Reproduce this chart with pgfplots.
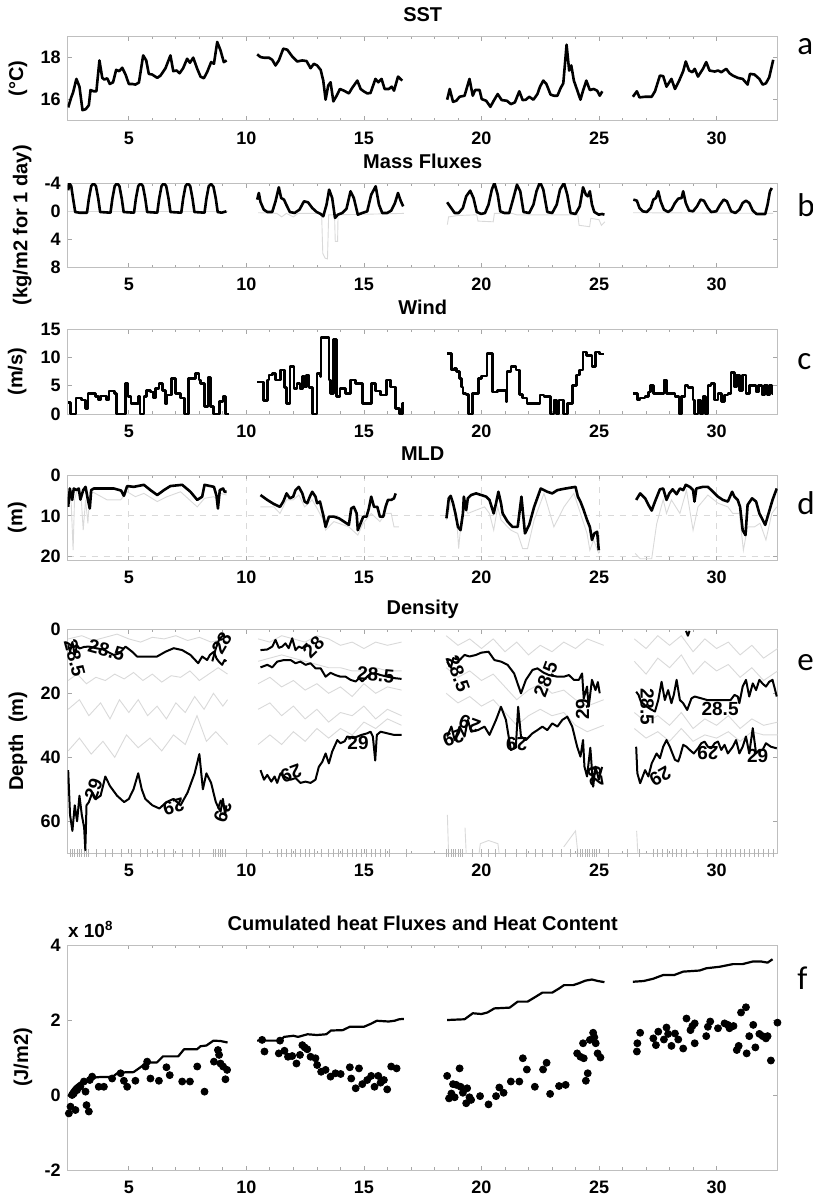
\documentclass[border=0pt]{standalone}
\usepackage{fontspec}
\setmainfont{Liberation Sans}
\newfontfamily\letterfont{Carlito}
\usepackage{pgfplots}
\pgfplotsset{compat=1.18}

\pgfplotsset{
  panel/.style={
    scale only axis, width=355pt, xmin=2.4, xmax=32.6,
    xtick={5,10,...,30}, minor x tick num=4,
    tick align=inside, major tick length=2.2pt, minor tick length=1.3pt,
    axis line style={black!25}, every tick/.style={black!35},
    tick label style={font=\fontsize{9}{10}\selectfont\bfseries},
    /pgf/number format/assume math mode=true,
    xticklabel style={anchor=base,yshift=-11.7pt},
    title style={at={(0.5,1)},anchor=base,yshift=1.4pt,font=\fontsize{10}{12}\selectfont\bfseries},
    ylabel style={font=\fontsize{10}{12}\selectfont\bfseries,anchor=center},
    anchor=north west, clip=true, clip mode=individual,
  },
  dataline/.style={black, line width=1.3pt, line join=round},
  contour/.style={black, line width=1pt, line join=round},
  greyline/.style={black!15, line width=0.45pt},
}
\tikzset{
  clab/.style={font=\fontsize{9.5}{10}\selectfont\bfseries, inner sep=0pt},
  letter/.style={font=\letterfont\fontsize{16.5}{16.5}\selectfont, anchor=west, inner sep=0pt},
}

\begin{document}
\begin{tikzpicture}

% ---- a: SST
\begin{axis}[panel, at={(0pt,0pt)}, height=42pt, ymin=15, ymax=19, ytick={16,18},
  title={SST}, ylabel={(°C)}, ylabel style={at={(axis description cs:-0.07,0.5)}}]
\addplot[dataline] coordinates {(2.42,15.63)(2.55,16.11)(2.63,16.35)(2.77,16.99)(2.90,16.62)(3.03,15.50)(3.17,15.55)(3.30,15.74)(3.37,16.46)(3.51,16.40)(3.62,16.40)(3.75,17.87)(3.87,17.04)(3.96,16.96)(4.08,17.02)(4.19,16.75)(4.33,16.83)(4.46,17.42)(4.59,17.36)(4.72,17.52)(4.86,17.20)(5.00,16.75)(5.14,16.75)(5.28,16.72)(5.43,16.82)(5.61,18.11)(5.74,17.87)(5.85,17.23)(5.99,17.20)(6.21,17.04)(6.35,17.15)(6.56,17.50)(6.77,18.11)(6.89,17.36)(7.03,17.39)(7.16,17.26)(7.31,17.50)(7.48,17.95)(7.60,17.76)(7.74,18.00)(7.91,17.47)(8.05,17.10)(8.19,17.02)(8.33,17.31)(8.50,17.79)(8.62,17.71)(8.76,18.75)(8.90,18.35)(9.04,17.79)(9.16,17.87)};
\addplot[dataline] coordinates {(10.46,18.16)(10.60,18.03)(10.74,18.0)(10.96,18.0)(11.10,17.9)(11.24,17.63)(11.38,17.87)(11.57,18.43)(11.74,18.38)(11.95,18.06)(12.16,17.82)(12.38,17.87)(12.56,17.84)(12.73,17.50)(12.87,17.71)(13.01,17.63)(13.16,17.42)(13.27,16.91)(13.37,16.0)(13.48,16.67)(13.58,16.83)(13.70,15.92)(13.84,16.19)(13.98,16.51)(14.15,16.43)(14.36,16.30)(14.50,16.56)(14.72,16.91)(14.86,16.51)(14.99,16.40)(15.14,16.30)(15.28,16.32)(15.49,16.99)(15.61,16.83)(15.75,16.99)(15.88,16.51)(16.06,16.51)(16.18,16.62)(16.28,16.43)(16.45,17.10)(16.63,16.91)};
\addplot[dataline] coordinates {(18.54,16.0)(18.65,16.51)(18.79,15.90)(18.93,15.95)(19.07,16.14)(19.28,16.19)(19.49,16.99)(19.63,16.19)(19.73,16.46)(19.92,16.46)(20.01,16.03)(20.20,15.95)(20.38,15.66)(20.52,15.95)(20.69,16.27)(20.86,15.98)(21.08,15.95)(21.25,15.79)(21.42,15.87)(21.61,16.40)(21.75,15.98)(21.89,16.0)(22.03,16.14)(22.21,16.0)(22.38,16.27)(22.49,16.62)(22.63,16.91)(22.76,16.75)(22.94,16.24)(23.08,16.19)(23.23,16.19)(23.37,16.56)(23.48,16.78)(23.62,18.62)(23.73,17.39)(23.82,17.63)(23.93,16.91)(24.07,16.46)(24.21,16.0)(24.32,16.43)(24.46,16.91)(24.61,16.46)(24.77,16.51)(24.92,16.43)(25.03,16.19)(25.14,16.40)};
\addplot[dataline] coordinates {(26.44,16.14)(26.61,16.40)(26.72,16.11)(26.96,16.14)(27.24,16.14)(27.38,16.40)(27.59,17.15)(27.73,17.12)(27.87,16.62)(28.08,16.99)(28.23,16.51)(28.41,16.91)(28.58,17.36)(28.69,17.82)(28.83,17.39)(28.97,17.31)(29.07,17.47)(29.21,17.10)(29.42,17.47)(29.56,17.79)(29.70,17.39)(29.92,17.34)(30.06,17.39)(30.20,17.31)(30.41,17.47)(30.55,17.26)(30.69,17.15)(30.90,17.04)(31.11,16.99)(31.32,16.72)(31.42,17.23)(31.61,17.20)(31.82,16.99)(31.96,16.72)(32.10,16.78)(32.24,17.07)(32.41,17.90)};
\node[letter] at (axis description cs:1.027,0.877) {a};
\end{axis}

% ---- b: Mass fluxes
\begin{axis}[panel, at={(0pt,-73.3pt)}, height=42pt, ymin=-4, ymax=8, y dir=reverse, ytick={-4,0,4,8},
  title={Mass Fluxes}, ylabel={(kg/m2 for 1 day)}, ylabel style={at={(axis description cs:-0.064,0.5)}}]
\addplot[greyline] coordinates {(2.42,0)(9.2,0)};
\addplot[greyline] coordinates {(10.5,0.2)(11.3,0.3)(11.5,0.8)(11.7,0.3)(12.0,0.8)(12.2,0.3)(13.2,0.3)(13.25,6.0)(13.35,6.7)(13.45,6.8)(13.5,0.5)(13.75,0.5)(13.78,4.3)(13.88,4.3)(13.9,0.5)(16.7,0.3)};
\addplot[greyline] coordinates {(18.55,1.9)(18.6,0.8)(19.0,0.6)(19.8,0.5)(19.85,1.4)(20.5,1.5)(20.55,0.3)(21.3,0.3)(21.5,0.5)(24.1,0.5)(24.15,2.0)(24.6,2.2)(24.65,1.0)(25.0,1.2)(25.1,2.0)(25.25,1.5)};
\addplot[greyline] coordinates {(26.45,0.2)(32.4,0.3)};
\addplot[dataline] coordinates {(2.42,-3.0)(2.47,-4.0)(2.55,-3.6)(2.63,-1.8)(2.72,0.1)(2.9,0.2)(3.22,0.2)(3.3,-1.8)(3.4,-3.6)(3.5,-4.0)(3.6,-3.6)(3.7,-1.8)(3.78,0.1)(4.22,0.2)(4.3,-1.8)(4.4,-3.6)(4.5,-4.0)(4.6,-3.6)(4.7,-1.8)(4.78,0.1)(5.22,0.2)(5.3,-1.8)(5.4,-3.6)(5.5,-4.0)(5.6,-3.6)(5.7,-1.8)(5.78,0.1)(6.21,0.2)(6.29,-1.8)(6.39,-3.6)(6.49,-4.0)(6.59,-3.6)(6.69,-1.8)(6.77,0.1)(7.23,0.2)(7.31,-1.8)(7.41,-3.6)(7.51,-4.0)(7.61,-3.6)(7.71,-1.8)(7.79,0.1)(8.22,0.2)(8.3,-1.8)(8.4,-3.6)(8.5,-3.9)(8.6,-3.5)(8.7,-1.8)(8.78,0.1)(8.95,0.2)(9.15,0.0)};
\addplot[dataline] coordinates {(10.46,-1.67)(10.53,-2.62)(10.60,-1.33)(10.74,-0.24)(10.89,0.1)(11.10,0.1)(11.24,-1.43)(11.38,-3.43)(11.48,-1.9)(11.60,-1.67)(11.71,-0.86)(11.85,0.1)(12.05,0.24)(12.26,-0.24)(12.45,-1.43)(12.62,-1.29)(12.80,-0.48)(12.99,0.1)(13.16,0.38)(13.27,0.71)(13.41,-0.95)(13.52,-3.1)(13.65,-1.9)(13.77,0.95)(13.89,0.48)(14.08,0.24)(14.26,-0.38)(14.43,-2.86)(14.57,-1.9)(14.74,0.48)(14.93,0.24)(15.14,0)(15.31,-2.38)(15.50,-3.57)(15.64,-0.95)(15.78,0.24)(15.99,0.24)(16.16,-0.1)(16.32,-1.19)(16.45,-2.62)(16.56,-1.52)(16.67,-0.71)};
\addplot[dataline] coordinates {(18.54,-1.29)(18.69,-0.57)(18.86,0.24)(19.03,0.24)(19.21,-0.48)(19.35,-2.14)(19.52,-2.95)(19.66,-1.9)(19.80,0.1)(19.99,0.38)(20.15,0.24)(20.30,-0.95)(20.44,-3.1)(20.55,-4.05)(20.69,-2.38)(20.80,0)(20.97,0.24)(21.18,0.24)(21.32,-1.43)(21.51,-3.81)(21.65,-2.86)(21.79,0.1)(22.03,0.24)(22.21,-0.95)(22.34,-2.86)(22.49,-4.19)(22.63,-3.1)(22.80,0.1)(23.01,0.24)(23.20,-0.95)(23.34,-3.1)(23.51,-4.05)(23.65,-2.38)(23.79,0.24)(24.0,0.38)(24.18,-0.71)(24.32,-3.43)(24.44,-2.38)(24.52,-2.14)(24.61,-2.86)(24.70,-0.95)(24.80,0.1)(24.99,0.48)(25.13,0.38)(25.23,0.48)};
\addplot[dataline] coordinates {(26.46,-1.67)(26.61,-1.52)(26.72,-0.48)(26.86,0)(27.03,0.1)(27.20,-0.48)(27.31,-1.67)(27.42,-1.9)(27.52,-2.86)(27.62,-1.43)(27.76,-0.24)(27.94,0.1)(28.08,-0.24)(28.23,-1.19)(28.37,-1.81)(28.51,-1.9)(28.58,-2.86)(28.69,-1.19)(28.83,-0.1)(29.0,0)(29.17,-0.71)(29.32,-1.67)(29.46,-1.52)(29.63,-0.48)(29.77,0.1)(29.99,0)(30.15,-0.95)(30.30,-1.67)(30.44,-1.43)(30.62,0)(30.80,0.24)(30.97,-0.24)(31.11,-1.19)(31.25,-1.52)(31.39,-1.19)(31.54,-0.1)(31.70,0.38)(31.89,0.38)(32.07,0.38)(32.17,-0.95)(32.27,-2.86)(32.35,-3.33)};
\node[letter] at (axis description cs:1.027,0.74) {b};
\end{axis}

% ---- c: Wind
\begin{axis}[panel, at={(0pt,-146.3pt)}, height=42.35pt, ymin=0, ymax=15, ytick={0,5,10,15},
  title={Wind}, ylabel={(m/s)}, ylabel style={at={(axis description cs:-0.071,0.5)}}]
\addplot[dataline, const plot] coordinates {(2.42,2.0)(2.52,0)(2.69,0)(2.76,2.8)(2.99,2.5)(3.16,1.0)(3.26,3.6)(3.58,3.1)(3.72,2.5)(3.79,3.2)(4.05,2.5)(4.15,4.1)(4.40,3.6)(4.48,0)(4.86,5.4)(4.97,3.1)(5.10,1.9)(5.40,3.1)(5.47,0)(5.64,3.1)(5.74,4.2)(5.92,3.9)(6.06,2.8)(6.13,4.5)(6.28,5.4)(6.42,4.2)(6.56,1.8)(6.63,3.4)(6.82,6.3)(6.99,3.6)(7.20,2.8)(7.37,0)(7.55,6.3)(7.84,7.2)(7.98,6.0)(8.05,5.4)(8.22,1.3)(8.36,6.5)(8.48,1.3)(8.59,0)(8.86,2.2)(9.01,3.1)(9.11,0)(9.26,0)};
\addplot[dataline, const plot] coordinates {(10.46,5.7)(10.72,2.4)(10.89,6.0)(10.96,6.9)(11.10,7.2)(11.24,6.0)(11.45,7.8)(11.62,4.7)(11.71,1.9)(11.85,8.4)(12.02,4.5)(12.16,5.4)(12.28,4.4)(12.38,6.6)(12.48,4.8)(12.56,6.9)(12.66,4.7)(12.80,0)(13.01,7.2)(13.16,6.6)(13.18,13.5)(13.51,6.0)(13.58,3.6)(13.70,13.2)(13.84,3.1)(13.98,4.5)(14.22,3.6)(14.43,6.0)(14.65,5.4)(14.93,1.9)(15.31,5.4)(15.50,4.1)(15.71,3.4)(15.96,6.0)(16.13,4.8)(16.35,1.0)(16.52,0)(16.63,1.9)(16.70,1.9)};
\addplot[dataline, const plot] coordinates {(18.54,10.7)(18.72,7.8)(18.86,8.1)(18.93,7.5)(19.07,6.3)(19.14,4.8)(19.21,3.6)(19.35,3.5)(19.46,0)(19.63,3.6)(19.87,6.3)(19.99,6.7)(20.24,10.7)(20.48,3.9)(20.69,4.2)(21.04,2.2)(21.08,7.5)(21.25,8.4)(21.46,7.8)(21.61,3.5)(21.75,2.8)(21.93,1.9)(22.49,3.4)(22.66,3.1)(22.94,0)(23.08,2.5)(23.20,0)(23.30,2.5)(23.48,0)(23.65,1.9)(23.86,5.1)(24.04,6.9)(24.18,7.8)(24.32,11.0)(24.46,10.4)(24.70,8.4)(24.85,11.0)(25.03,10.6)(25.23,10.6)};
\addplot[dataline, const plot] coordinates {(26.46,3.6)(26.63,2.5)(26.75,2.8)(26.96,3.1)(27.10,3.9)(27.20,5.1)(27.31,3.6)(27.76,6.0)(27.87,3.6)(28.23,3.1)(28.41,0)(28.51,3.1)(28.65,5.1)(28.79,4.7)(29.00,2.5)(29.07,0)(29.21,2.5)(29.31,0)(29.42,3.1)(29.54,0)(29.63,5.1)(29.77,5.4)(29.92,2.5)(30.06,3.6)(30.20,2.2)(30.34,3.4)(30.48,3.6)(30.62,7.3)(30.76,4.8)(30.86,6.9)(30.97,4.2)(31.11,6.9)(31.25,3.6)(31.39,5.1)(31.68,3.9)(31.79,5.1)(31.93,3.4)(32.03,5.1)(32.17,3.4)(32.24,5.1)(32.35,3.6)(32.42,3.6)};
\node[letter] at (axis description cs:1.027,0.615) {c};
\end{axis}

% ---- d: MLD
\begin{axis}[panel, at={(0pt,-219.15pt)}, height=42.5pt, ymin=0, ymax=20.8, y dir=reverse, ytick={0,10,20},
  grid=major, major grid style={dashed, black!15, line width=0.4pt},
  title={MLD}, ylabel={(m)}, ylabel style={at={(axis description cs:-0.071,0.5)}}]
\addplot[greyline] coordinates {(2.42,4.5)(2.55,6.9)(2.63,18.4)(2.69,6.1)(2.80,3.7)(2.97,5.3)(3.06,13.5)(3.16,6.1)(3.26,11.8)(3.34,4.1)(3.51,4.3)(4.08,6.1)(4.65,6.1)(4.93,4.1)(5.28,5.3)(5.64,4.5)(6.21,6.5)(6.63,5.3)(7.2,4.1)(7.91,7.8)(8.22,5.7)(8.62,5.3)(8.76,6.1)(8.90,4.5)(9.16,4.9)};
\addplot[greyline] coordinates {(10.60,7.8)(11.17,7.8)(11.43,9.4)(11.71,6.1)(11.99,6.1)(12.23,4.9)(12.48,7.8)(12.80,6.1)(13.01,8.2)(13.27,11.0)(13.37,13.5)(13.72,11.4)(14.36,12.7)(14.74,14.7)(14.97,11.8)(15.31,9.4)(15.68,11.4)(15.92,9.4)(16.16,9.4)(16.28,12.7)(16.49,12.7)};
\addplot[greyline] coordinates {(18.51,11.0)(18.72,6.1)(18.93,9.4)(19.03,18.0)(19.14,11.0)(19.28,7.8)(19.42,9.4)(19.77,8.6)(20.13,7.8)(20.34,9.4)(20.52,13.5)(20.69,7.8)(20.83,11.0)(21.25,13.5)(21.54,14.3)(21.75,18.0)(21.96,18.0)(22.24,11.0)(22.66,4.5)(23.08,12.7)(23.51,7.8)(23.93,4.5)(24.21,9.4)(24.49,14.3)(24.61,18.4)(24.77,15.9)(24.99,19.2)};
\addplot[greyline] coordinates {(26.54,19.2)(26.75,20.5)(27.24,20.5)(27.45,12.0)(27.73,6.0)(27.87,9.4)(28.08,6.1)(28.44,9.4)(28.72,3.7)(29.0,13.5)(29.21,7.8)(29.63,4.9)(30.06,6.9)(30.48,7.8)(30.69,9.4)(30.97,9.4)(31.14,18.4)(31.32,12.7)(31.61,12.7)(31.85,11.8)(32.10,15.9)(32.35,9.4)(32.56,7.8)};
\addplot[dataline] coordinates {(2.42,7.8)(2.49,3.3)(2.59,6.1)(2.66,3.3)(2.77,3.7)(2.87,3.3)(2.94,6.0)(3.06,3.7)(3.16,2.9)(3.26,6.1)(3.34,8.2)(3.40,3.7)(3.51,3.3)(4.36,3.3)(4.67,3.8)(4.79,5.1)(4.93,2.7)(5.21,2.9)(5.64,2.4)(5.92,3.7)(6.21,4.9)(6.49,3.7)(6.77,2.7)(7.27,2.4)(7.62,4.1)(7.91,6.1)(8.12,5.3)(8.22,2.4)(8.62,2.9)(8.73,5.1)(8.79,8.2)(8.87,3.7)(9.01,3.3)(9.07,4.1)(9.16,4.1)};
\addplot[dataline] coordinates {(10.60,4.9)(10.89,6.1)(11.17,7.1)(11.43,7.8)(11.57,6.5)(11.71,4.5)(11.85,5.7)(11.99,5.3)(12.09,3.7)(12.23,2.9)(12.38,4.5)(12.48,6.5)(12.59,6.9)(12.70,5.3)(12.80,4.1)(12.94,5.3)(13.01,6.9)(13.13,6.5)(13.27,9.8)(13.37,12.7)(13.51,10.2)(13.72,10.2)(13.94,10.6)(14.15,11.4)(14.36,12.2)(14.46,8.2)(14.57,7.8)(14.69,9.4)(14.74,13.5)(14.86,11.8)(14.97,10.2)(15.11,10.2)(15.21,8.2)(15.31,5.3)(15.43,7.8)(15.57,7.8)(15.68,10.2)(15.82,10.2)(15.92,7.8)(16.02,6.1)(16.16,6.1)(16.28,5.7)(16.35,4.5)};
\addplot[dataline] coordinates {(18.51,10.6)(18.61,5.7)(18.69,5.1)(18.79,6.9)(18.89,9.4)(19.0,12.7)(19.11,13.5)(19.21,9.4)(19.25,5.3)(19.35,8.6)(19.42,5.7)(19.56,4.9)(19.77,4.5)(19.99,4.9)(20.20,5.3)(20.34,6.1)(20.52,9.4)(20.62,6.9)(20.72,4.1)(20.83,6.9)(20.90,9.4)(21.11,11.4)(21.32,12.7)(21.54,12.7)(21.70,5.3)(21.85,14.3)(22.03,12.2)(22.24,7.8)(22.52,3.3)(22.80,4.1)(23.01,4.5)(23.23,3.7)(23.58,3.3)(24.0,2.9)(24.10,5.3)(24.21,6.5)(24.35,8.6)(24.49,11.0)(24.61,12.7)(24.70,15.9)(24.80,14.3)(24.92,13.9)(24.99,18.4)};
\addplot[dataline] coordinates {(26.58,6.1)(26.75,4.5)(26.96,5.7)(27.10,7.3)(27.24,8.7)(27.38,6.5)(27.59,3.5)(27.73,3.3)(27.87,6.1)(27.99,4.5)(28.13,3.5)(28.30,4.7)(28.44,3.3)(28.58,3.7)(28.69,2.4)(28.86,2.9)(29.0,3.7)(29.06,6.5)(29.14,3.3)(29.42,2.9)(29.63,2.9)(29.85,4.1)(30.06,5.3)(30.27,6.1)(30.48,6.5)(30.66,4.1)(30.76,5.3)(30.90,6.1)(31.0,7.8)(31.11,13.5)(31.23,14.7)(31.32,7.3)(31.51,5.7)(31.68,6.5)(31.82,9.4)(32.07,12.2)(32.17,10.2)(32.38,6.1)(32.56,3.3)};
\node[letter] at (axis description cs:1.027,0.67) {d};
\end{axis}

% ---- e: Density
\begin{axis}[panel, at={(0pt,-296.3pt)}, height=112pt, ymin=0, ymax=70, y dir=reverse, ytick={0,20,40,60},
  title={Density}, ylabel={Depth\ \ (m)}, ylabel style={at={(axis description cs:-0.07,0.5)}}]
% light isopycnals
\addplot[greyline] coordinates {(2.42,3)(3.0,2)(3.5,3.5)(4.0,2.5)(4.5,1.5)(5.0,3)(5.5,4)(6.0,2.5)(6.5,3)(7.0,2)(7.5,3.5)(8.0,2.5)(8.5,4)(9.0,3)(9.2,4)};
\addplot[greyline] coordinates {(2.42,16)(2.8,14)(3.2,17)(3.6,15)(4.0,16)(4.4,14)(4.8,15.5)(5.2,13.5)(5.6,16)(6.0,14)(6.4,16.5)(6.8,14.5)(7.2,15)(7.6,13)(8.0,16)(8.4,14)(8.8,12)(9.2,14)};
\addplot[greyline] coordinates {(2.42,25)(2.9,22)(3.3,27)(3.8,23)(4.2,28)(4.6,22)(5.0,26)(5.4,22)(5.8,27)(6.2,24)(6.6,28)(7.0,23)(7.4,26)(7.8,21)(8.2,25)(8.6,20)(9.0,24)(9.2,22)};
\addplot[greyline] coordinates {(2.42,38)(2.9,34)(3.4,39)(3.9,35)(4.4,40)(4.9,33)(5.4,37)(5.9,34)(6.4,38)(6.9,33)(7.4,36)(7.9,27)(8.3,35)(8.7,32)(9.2,36)};
\addplot[greyline] coordinates {(10.5,3)(11.0,4)(11.5,2)(12.0,3)(12.5,4)(13.0,2)(13.5,3)(14.0,5)(14.5,4)(15.0,6)(15.5,4)(16.0,5)(16.6,4)};
\addplot[greyline] coordinates {(10.5,10)(11.0,9)(11.5,8)(12.0,9)(12.5,10)(13.0,11)(13.5,12)(14.0,12)(14.5,13)(15.0,13)(15.5,12)(16.0,13)(16.6,13)};
\addplot[greyline] coordinates {(10.5,17)(11.0,15)(11.5,18)(12.0,16)(12.5,19)(13.0,17)(13.5,20)(14.0,18)(14.5,21)(15.0,17)(15.5,20)(16.0,18)(16.6,19)};
\addplot[greyline] coordinates {(10.5,25)(11.0,23)(11.5,27)(12.0,24)(12.5,28)(13.0,25)(13.5,29)(14.0,26)(14.5,27)(15.0,24)(15.5,28)(16.0,25)(16.6,27)};
\addplot[greyline] coordinates {(10.5,36)(11.0,33)(11.5,36)(12.0,32)(12.5,35)(13.0,31)(13.5,34)(14.0,31)(14.5,33)(15.0,29)(15.5,31)(16.0,28)(16.6,30)};
\addplot[greyline] coordinates {(18.5,2)(19.0,5)(19.5,3)(20.0,6)(20.5,3)(21.0,7)(21.5,4)(22.0,8)(22.5,5)(23.0,7)(23.5,4)(24.0,6)(24.5,3)(25.2,5)};
\addplot[greyline] coordinates {(18.5,12)(19.0,15)(19.5,13)(20.0,16)(20.5,14)(21.0,18)(21.5,22)(22.0,19)(22.5,17)(23.0,20)(23.5,19)(24.0,22)(24.5,24)(25.2,22)};
\addplot[greyline] coordinates {(18.5,20)(19.0,23)(19.5,21)(20.0,24)(20.5,22)(21.0,26)(21.5,30)(22.0,27)(22.5,25)(23.0,27)(23.5,26)(24.0,30)(24.5,32)(25.2,30)};
\addplot[greyline] coordinates {(18.55,58)(18.6,70)};
\addplot[greyline] coordinates {(19.3,62)(19.35,70)};
\addplot[greyline] coordinates {(19.9,70)(19.95,67)(20.3,66)(20.7,67)(20.75,70)};
\addplot[greyline] coordinates {(23.5,68)(24.0,63)(24.1,70)};
\addplot[greyline] coordinates {(26.6,63)(26.65,70)};
\addplot[greyline] coordinates {(26.5,3)(27.0,6)(27.5,2)(28.0,5)(28.5,2)(29.0,7)(29.5,3)(30.0,6)(30.5,4)(31.0,8)(31.5,5)(32.0,9)(32.6,6)};
\addplot[greyline] coordinates {(26.5,10)(27.0,14)(27.5,9)(28.0,12)(28.5,8)(29.0,14)(29.5,10)(30.0,13)(30.5,11)(31.0,15)(31.5,12)(32.0,16)(32.6,13)};
\addplot[greyline] coordinates {(26.5,26)(27.0,29)(27.5,27)(28.0,30)(28.5,26)(29.0,31)(29.5,28)(30.0,30)(30.5,27)(31.0,31)(31.5,28)(32.0,30)(32.6,29)};
\addplot[greyline] coordinates {(26.5,31)(27.0,34)(27.5,32)(28.0,35)(28.5,31)(29.0,35)(29.5,33)(30.0,34)(30.5,32)(31.0,35)(31.5,32)(32.0,33)(32.6,33)};
% profile times
\addplot[only marks, mark=|, mark size=2pt, black!30, mark options={line width=0.4pt}] coordinates {(2.5,70)(2.6,70)(2.7,70)(2.8,70)(2.9,70)(3.0,70)(3.1,70)(3.2,70)(3.3,70)(3.6,70)(4.0,70)(4.3,70)(4.7,70)(5.1,70)(5.5,70)(5.8,70)(6.2,70)(6.5,70)(6.9,70)(7.3,70)(7.7,70)(8.0,70)(8.6,70)(8.7,70)(8.8,70)(8.9,70)(9.0,70)(9.1,70)(10.0,70)(10.7,70)(11.3,70)(11.5,70)(11.7,70)(11.9,70)(12.1,70)(12.3,70)(12.5,70)(12.7,70)(12.9,70)(13.2,70)(13.5,70)(13.7,70)(13.9,70)(14.1,70)(14.3,70)(14.5,70)(14.7,70)(14.9,70)(15.1,70)(15.3,70)(15.5,70)(15.7,70)(15.9,70)(16.1,70)(16.8,70)(18.5,70)(18.6,70)(18.7,70)(18.8,70)(18.9,70)(19.0,70)(19.1,70)(19.2,70)(19.6,70)(20.0,70)(20.3,70)(20.6,70)(21.0,70)(21.5,70)(21.9,70)(22.3,70)(22.6,70)(23.0,70)(23.4,70)(23.8,70)(24.1,70)(24.2,70)(24.3,70)(24.4,70)(24.5,70)(24.6,70)(24.7,70)(24.8,70)(24.9,70)(25.4,70)(26.2,70)(26.7,70)(27.3,70)(27.5,70)(27.7,70)(27.9,70)(28.1,70)(28.3,70)(28.5,70)(28.7,70)(29.2,70)(29.6,70)(30.0,70)(30.2,70)(30.4,70)(30.6,70)(30.8,70)(31.0,70)(31.2,70)(31.4,70)(31.6,70)(31.8,70)(32.0,70)(32.2,70)(32.4,70)};
% sigma 28
\addplot[contour] coordinates {(8.55,10)(8.7,6)(8.85,3)(9.0,2)(9.15,2.5)};
\addplot[contour] coordinates {(10.6,6.5)(10.89,6.3)(11.1,5.4)(11.24,3.3)(11.38,5.8)(11.52,5.4)(11.66,4.4)(11.8,5.9)(11.95,2.8)(12.09,6.5)(12.23,5.4)(12.38,5.9)(12.59,4.4)};
\addplot[contour] coordinates {(28.7,0.5)(28.78,2)(28.85,0.5)};
% sigma 28.5
\addplot[contour] coordinates {(2.42,5)(2.5,7)(2.6,4)(2.7,8)(2.8,5)(2.9,6)(3.1,5.5)(3.3,5.4)(3.6,5.9)(3.9,6.3)(4.36,8.0)(4.6,7.5)(4.86,5.4)(5.14,7.0)(5.35,8.5)(5.78,8.5)(6.2,8.5)(6.56,7.0)(6.91,5.9)(7.27,6.5)(7.62,8.0)(7.95,10.6)(8.12,8.5)(8.33,9.6)(8.45,8.0)(8.62,7.0)(8.73,9.1)(8.83,10.1)(8.97,11.1)(9.07,9.6)(9.15,10)};
\addplot[contour] coordinates {(10.6,11.9)(10.89,11.1)(11.1,11.9)(11.31,10.1)(11.6,9.6)(11.88,9.6)(12.09,10.6)(12.30,10.1)(12.52,11.1)(12.73,10.6)(12.94,12.2)(13.16,12.2)(13.37,14.8)(13.58,13.6)(13.79,14.3)(14.0,14.8)(14.22,14.8)(14.43,15.8)(14.65,16.3)(14.79,15.3)(14.93,16.3)(15.07,15.3)(15.28,13.8)(15.50,13.8)(15.71,14.3)(15.99,14.8)(16.35,15.3)(16.6,15.5)};
\addplot[contour] coordinates {(18.54,10.1)(18.7,12)(18.8,9)(19.07,9.6)(19.28,8.0)(19.49,8.5)(19.77,8.0)(19.99,7.3)(20.30,7.0)(20.55,9.6)(20.83,10.1)(21.11,11.1)(21.39,13.8)(21.68,20.0)(21.89,15.8)(22.17,12.7)(22.38,12.2)(22.63,13.5)(22.87,14.3)(23.23,14.8)(23.51,14.8)(23.72,14.3)(23.93,15.8)(24.14,15.8)(24.28,13.8)(24.35,21.6)(24.49,17.9)(24.56,24.2)(24.70,15.8)(24.85,19.0)(24.95,16.5)(25.03,20.0)};
\addplot[contour] coordinates {(26.58,19.5)(26.68,20.5)(26.78,22.6)(27.0,24.0)(27.2,25.0)(27.38,25.7)(27.52,22.1)(27.66,16.4)(27.80,22.1)(27.94,19.0)(28.08,23.1)(28.18,20.5)(28.30,15.8)(28.44,22.1)(28.58,23.1)(28.75,25.2)(28.93,21.6)(29.07,21.0)(29.6,22.1)(30.6,22.1)(30.76,20.5)(30.90,21.0)(30.97,23.1)(31.11,17.9)(31.25,15.8)(31.39,21.0)(31.54,16.9)(31.68,19.0)(31.82,15.8)(31.96,17.0)(32.10,17.9)(32.24,16.4)(32.38,15.8)(32.56,21.0)};
% sigma 29
\addplot[contour] coordinates {(2.42,44)(2.5,58)(2.6,63)(2.7,55)(2.8,60)(2.9,52)(3.0,58)(3.1,62)(3.15,69)(3.2,55)(3.3,54)(3.45,51)(3.6,53)(3.8,52)(4.0,46)(4.2,49)(4.5,52)(4.8,54)(5.0,53)(5.2,50)(5.4,45)(5.55,50)(5.7,53)(6.0,55)(6.3,56)(6.6,54)(6.9,53)(7.2,55)(7.5,51)(7.8,45)(8.0,39)(8.15,50)(8.3,45)(8.5,48)(8.7,54)(8.9,57)(9.0,53)(9.1,58)(9.15,55)};
\addplot[contour] coordinates {(10.6,44)(10.75,47)(10.89,45.5)(11.06,47.6)(11.2,46)(11.31,48)(11.45,45)(11.6,46)(11.88,47)(12.09,46.5)(12.30,48)(12.52,47.6)(12.73,48)(12.94,47)(13.08,43)(13.23,41.4)(13.37,38.8)(13.51,41.9)(13.65,38.2)(13.87,34.6)(14.0,35.6)(14.18,35)(14.29,33.5)(14.55,34)(14.9,33)(15.14,32.5)(15.28,32)(15.38,33.5)(15.48,41)(15.55,33)(15.71,32)(15.99,32.5)(16.28,33)(16.6,33)};
\addplot[contour] coordinates {(18.54,33.5)(18.72,30.4)(18.86,34.6)(19.07,30.4)(19.28,33.5)(19.42,28.3)(19.56,32)(19.85,31.5)(20.13,30.4)(20.34,33)(20.62,28.3)(20.83,24.2)(21.04,28.3)(21.25,37.7)(21.46,37)(21.56,24.2)(21.68,33.5)(21.89,34.6)(22.17,32.5)(22.38,31.5)(22.59,30.4)(22.80,31.5)(23.01,29.4)(23.23,30.4)(23.44,28.3)(23.65,27.3)(23.86,30.4)(24.07,36.7)(24.21,39.8)(24.32,34.6)(24.38,42.9)(24.49,46)(24.63,37)(24.75,49.2)(24.85,42.9)(24.99,47)(25.13,43)};
\addplot[contour] coordinates {(26.58,36.7)(26.63,45)(26.75,48.1)(26.96,44)(27.10,46)(27.24,41.9)(27.45,38.8)(27.59,40.3)(27.73,36.7)(27.87,34.6)(28.01,36.7)(28.23,40.8)(28.37,41.3)(28.44,39.8)(28.58,36.1)(28.72,36.7)(28.86,37.7)(29.03,38.8)(29.21,37.2)(29.35,35.6)(29.49,35.1)(29.63,36.7)(29.77,37.2)(29.92,35.6)(30.06,35.1)(30.20,37.7)(30.34,36.1)(30.48,38.8)(30.69,36.7)(30.83,34.6)(30.97,38.8)(31.11,36.7)(31.25,33.5)(31.39,38.8)(31.54,30.9)(31.68,38.8)(31.82,37.7)(31.96,37.7)(32.10,35.6)(32.31,36.7)(32.56,37.2)};
% contour labels
\node[clab, rotate=-15] at (axis cs:4.05,6.6) {28.5};
\node[clab, rotate=-75] at (axis cs:2.7,9) {28.5};
\node[clab, rotate=60] at (axis cs:8.95,4.2) {28};
\node[clab, rotate=70] at (axis cs:3.5,50) {29};
\node[clab, rotate=195] at (axis cs:6.9,55.5) {29};
\node[clab, rotate=250] at (axis cs:9.0,57) {29};
\node[clab, rotate=45] at (axis cs:12.85,5.5) {28};
\node[clab, rotate=-5] at (axis cs:15.5,14.3) {28.5};
\node[clab, rotate=200] at (axis cs:11.9,45) {29};
\node[clab] at (axis cs:14.75,35.5) {29};
\node[clab, rotate=-70] at (axis cs:19.0,14) {28.5};
\node[clab, rotate=70] at (axis cs:22.73,15.6) {28.5};
\node[clab, rotate=90] at (axis cs:24.3,25) {29};
\node[clab, rotate=200] at (axis cs:18.8,34) {29};
\node[clab, rotate=160] at (axis cs:19.5,29.5) {29};
\node[clab, rotate=180] at (axis cs:21.5,36) {29};
\node[clab, rotate=100] at (axis cs:24.85,46) {29};
\node[clab, rotate=-90] at (axis cs:27.05,24.2) {28.5};
\node[clab] at (axis cs:30.15,24.8) {28.5};
\node[clab, rotate=210] at (axis cs:27.6,46) {29};
\node[clab, rotate=180] at (axis cs:29.63,38.8) {29};
\node[clab] at (axis cs:31.75,39.5) {29};
\node[letter] at (axis description cs:1.027,0.85) {e};
\end{axis}

% ---- f: heat
\begin{axis}[panel, at={(0pt,-454.15pt)}, height=112.5pt, ymin=-2, ymax=4, ytick={-2,0,2,4},
  title={Cumulated heat Fluxes and Heat Content}, ylabel={(J/m2)}, ylabel style={at={(axis description cs:-0.063,0.5)}}]
\addplot[dataline, line width=1.1pt] coordinates {(2.42,-0.04)(2.55,0.10)(2.7,0.22)(2.9,0.32)(3.1,0.38)(3.4,0.43)(3.6,0.47)(3.8,0.48)(4.3,0.48)(4.55,0.60)(5.2,0.61)(5.45,0.72)(5.75,0.86)(6.2,0.87)(6.45,1.03)(7.1,1.03)(7.35,1.22)(7.9,1.22)(8.05,1.30)(8.3,1.32)(8.6,1.45)(8.9,1.44)(9.2,1.40)};
\addplot[dataline, line width=1.1pt] coordinates {(10.46,1.45)(11.45,1.45)(11.6,1.55)(12.0,1.58)(12.2,1.55)(12.6,1.62)(13.0,1.60)(13.4,1.62)(13.6,1.72)(14.1,1.73)(14.4,1.82)(15.0,1.82)(15.3,1.90)(15.55,1.98)(16.05,1.96)(16.3,1.98)(16.5,2.02)(16.7,2.03)};
\addplot[dataline, line width=1.1pt] coordinates {(18.54,2.0)(19.28,2.02)(19.5,2.12)(19.63,2.18)(20.0,2.16)(20.25,2.2)(20.55,2.31)(21.2,2.33)(21.54,2.49)(21.96,2.49)(22.2,2.58)(22.59,2.73)(23.01,2.73)(23.3,2.84)(23.51,2.93)(23.9,2.93)(24.14,2.98)(24.42,3.05)(24.70,3.08)(24.95,3.04)(25.23,3.01)};
\addplot[dataline, line width=1.1pt] coordinates {(26.44,3.02)(26.9,3.04)(27.3,3.1)(27.73,3.2)(28.2,3.2)(28.58,3.29)(29.28,3.32)(29.56,3.38)(30.13,3.42)(30.69,3.49)(31.1,3.49)(31.54,3.56)(31.9,3.56)(32.17,3.53)(32.38,3.62)};
\addplot[only marks, mark=*, mark size=1.75pt, black] coordinates {(2.45,-0.49)(2.52,-0.31)(2.59,0)(2.73,-0.4)(2.66,0.04)(2.80,0.13)(2.94,0.22)(3.09,0.36)(3.16,0.09)(3.20,-0.27)(3.30,-0.44)(3.34,0.4)(3.44,0.49)(3.72,0.22)(3.94,0.22)(4.29,0.44)(4.65,0.58)(4.79,0.38)(4.93,0.22)(5.28,0.38)(5.71,0.76)(5.78,0.89)(5.92,0.44)(6.28,0.38)(6.60,0.74)(6.74,0.53)(7.27,0.36)(7.60,0.36)(7.91,0.76)(8.22,0.09)(8.62,0.89)(8.79,1.2)(8.84,1.07)(8.90,0.84)(9.01,0.76)(9.11,0.42)(9.18,0.67)
(10.67,1.47)(10.77,1.16)(11.43,1.45)(11.38,1.11)(11.62,1.18)(11.77,1.02)(11.95,1.04)(12.13,0.84)(12.28,1.07)(12.38,1.33)(12.48,1.27)(12.59,1.22)(12.73,1.02)(12.94,0.98)(13.01,0.8)(13.18,0.62)(13.37,0.67)(13.58,0.49)(13.79,0.58)(14.01,0.56)(14.40,0.74)(14.46,0.44)(14.65,0.18)(14.79,0.71)(14.93,0.29)(15.14,0.4)(15.31,0.51)(15.45,0.22)(15.61,0.51)(15.71,0.33)(15.85,0.4)(15.99,0.15)(16.16,0.76)(16.39,0.71)
(18.54,0.51)(18.62,-0.09)(18.72,0.04)(18.86,-0.06)(18.79,0.29)(18.93,0.27)(19.07,0.71)(19.11,0.22)(19.21,0.06)(19.35,-0.22)(19.39,0.18)(19.49,-0.06)(19.56,-0.13)(19.94,-0.03)(20.30,-0.25)(20.62,-0.03)(20.76,0.20)(20.94,0.06)(21.25,0.36)(21.61,0.36)(21.76,0.98)(21.93,0.68)(22.27,0.22)(22.62,0.68)(22.77,0.86)(22.92,0.03)(23.30,0.24)(23.58,0.27)(24.07,1.11)(24.21,1.02)(24.35,0.98)(24.44,0.38)(24.52,0.58)(24.32,1.38)(24.61,1.47)(24.75,1.66)(24.80,1.54)(24.86,1.38)(24.94,1.11)(25.06,1.0)
(26.61,1.16)(26.63,1.38)(26.75,1.66)(27.31,1.51)(27.42,1.33)(27.52,1.69)(27.76,1.48)(27.87,1.80)(27.94,1.63)(28.08,1.31)(28.23,1.64)(28.37,1.48)(28.58,1.24)(28.72,2.04)(28.89,1.73)(28.97,1.84)(29.07,1.91)(29.07,1.38)(29.56,1.57)(29.63,1.82)(29.73,1.96)(30.06,1.78)(30.34,1.91)(30.48,1.87)(30.55,1.78)(30.72,1.84)(30.86,1.2)(30.94,1.31)(31.04,2.2)(31.25,2.34)(31.28,1.11)(31.39,1.57)(31.56,1.87)(31.65,1.27)(31.82,1.63)(31.96,1.57)(32.10,1.51)(32.17,1.57)(32.31,0.92)(32.59,1.93)};
\node[anchor=base west, inner sep=0pt, yshift=3.6pt, font=\fontsize{9.5}{10}\selectfont\bfseries] at (axis description cs:0,1) {x 10\textsuperscript{8}};
\node[letter] at (axis description cs:1.027,0.853) {f};
\end{axis}

\pgfresetboundingbox
\path[use as bounding box] (-33.85pt,18.35pt) rectangle (372.65pt,-581.15pt);
\end{tikzpicture}
\end{document}
